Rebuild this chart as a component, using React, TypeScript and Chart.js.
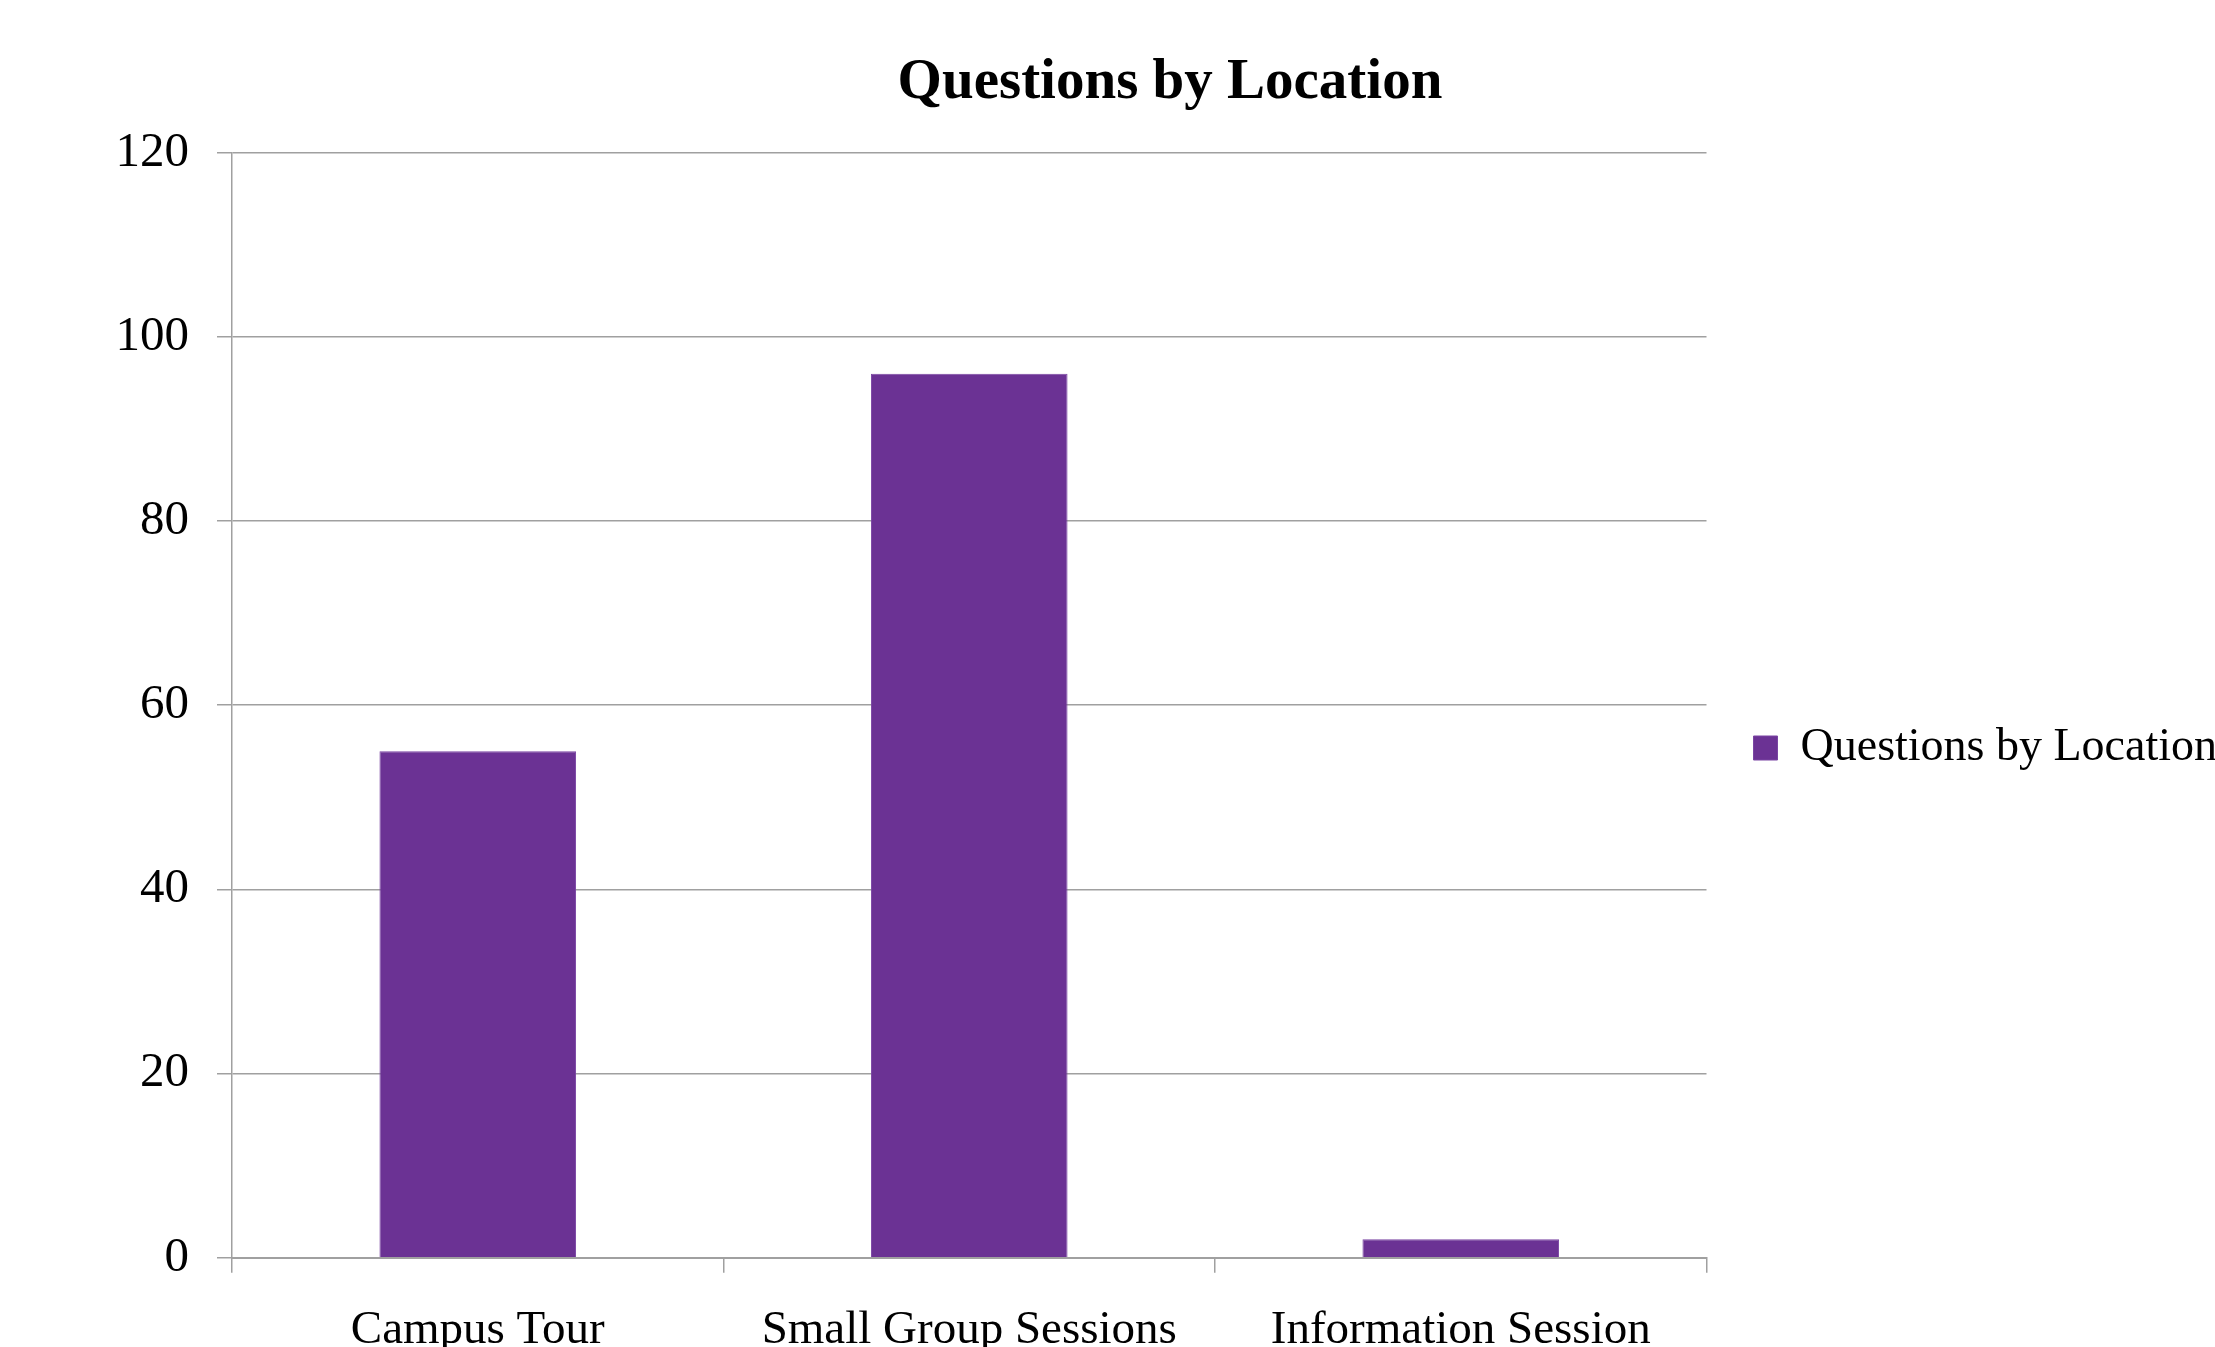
import React, { useEffect, useRef } from "react";
import { Chart, registerables } from "chart.js";

Chart.register(...registerables);

const chartTitle = "Questions by Location";
const seriesName = "Questions by Location";
const categories = ["Campus Tour", "Small Group Sessions", "Information Session"];
const seriesValues = [55, 96, 2];
const yMin = 0;
const yMax = 120;
const yStep = 20;

const FONT = "'Liberation Serif', 'Times New Roman', serif";
const GRID = "#a0a0a0";
const BAR = "#6b3294";

const CANVAS_LEFT = 113;
const CANVAS_W = 2114;
const CANVAS_H = 1496;

export default function App() {
  const ref = useRef<HTMLCanvasElement | null>(null);

  useEffect(() => {
    document.body.style.overflow = "hidden";
    document.body.style.margin = "0";
    const canvas = ref.current;
    if (!canvas) return;
    const chart = new Chart(canvas, {
      type: "bar",
      data: {
        labels: categories,
        datasets: [
          {
            label: seriesName,
            data: seriesValues,
            backgroundColor: BAR,
            borderColor: "#7a45a3",
            borderWidth: 1,
            categoryPercentage: 1,
            barPercentage: 0.4,
          },
        ],
      },
      options: {
        animation: false,
        responsive: false,
        devicePixelRatio: 1,
        layout: { padding: 0 },
        plugins: {
          title: {
            display: true,
            text: chartTitle,
            color: "#000",
            font: { family: FONT, size: 57, weight: "bold", lineHeight: 1.2 },
            padding: { top: 48.6, bottom: 35.7 },
          },
          legend: {
            display: true,
            position: "right",
            labels: {
              color: "#000",
              font: { family: FONT, size: 46 },
              boxWidth: 24,
              boxHeight: 24,
              padding: 47,
            },
          },
          tooltip: { enabled: false },
        },
        scales: {
          x: {
            offset: true,
            grid: {
              offset: true,
              drawOnChartArea: false,
              drawTicks: true,
              tickLength: 15,
              color: GRID,
              lineWidth: 1.5,
            },
            border: { display: true, color: GRID, width: 2 },
            ticks: {
              color: "#000",
              font: { family: FONT, size: 47 },
              padding: 30,
              maxRotation: 0,
              autoSkip: false,
            },
            afterFit: (scale: any) => {
              scale.height = 238.3;
            },
          },
          y: {
            min: yMin,
            max: yMax,
            ticks: {
              stepSize: yStep,
              color: "#000",
              font: { family: FONT, size: 49 },
              padding: 28,
            },
            grid: {
              drawTicks: true,
              tickLength: 15,
              color: GRID,
              lineWidth: 1.5,
            },
            border: { display: true, color: GRID, width: 1.5 },
            afterFit: (scale: any) => {
              scale.width = 232 - CANVAS_LEFT;
            },
          },
        },
      },
    });
    return () => chart.destroy();
  }, []);

  return (
    <div
      style={{
        position: "fixed",
        left: CANVAS_LEFT,
        top: 0,
        width: CANVAS_W,
        height: CANVAS_H,
        background: "#fff",
      }}
    >
      <canvas ref={ref} width={CANVAS_W} height={CANVAS_H} style={{ display: "block" }} />
    </div>
  );
}
